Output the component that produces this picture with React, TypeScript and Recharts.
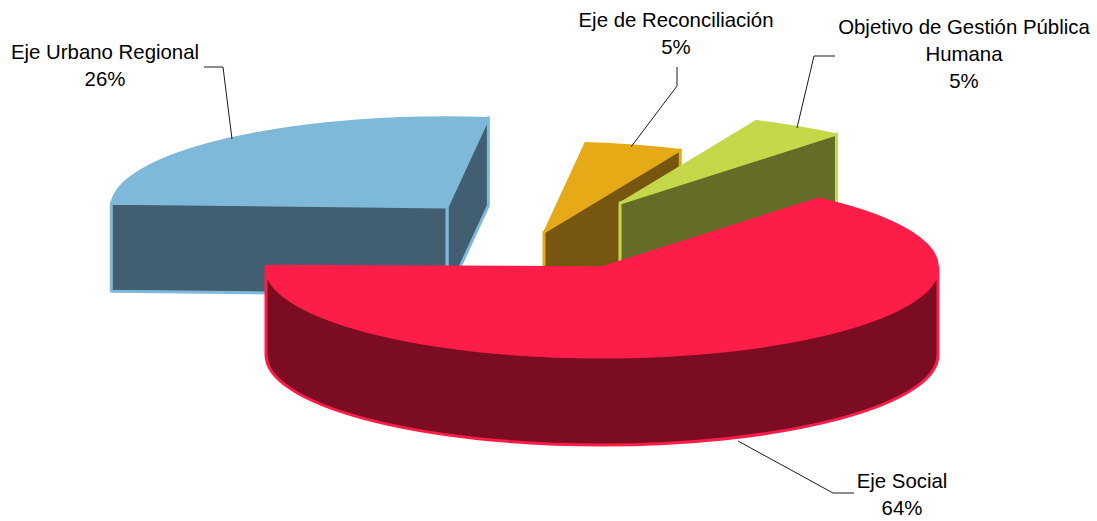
import { PieChart, Pie } from 'recharts';

const categories = ['Eje Urbano Regional', 'Eje de Reconciliación', 'Objetivo de Gestión Pública Humana', 'Eje Social'];
const shares = [26.4, 4.7, 4.51, 64.39];

const chartData = categories.map((name, i) => ({ name, value: shares[i] }));

const CX = 602;
const CY = 267;
const RADIUS = 336;
const TILT = 90 / 336;
const DEPTH = 88;

// per slice: explosion offset and colours
const sliceStyles = [
  { dx: -155, dy: -60, top: '#7FB9D9', wall: '#425F72' },
  { dx: -58, dy: -35, top: '#E5AA16', wall: '#775610' },
  { dx: 18, dy: -64, top: '#C4D84A', wall: '#646C27' },
  { dx: 0, dy: 0, top: '#FC1E48', wall: '#7B0C21' },
];

// wrapped label lines, their centre and first baseline, and the leader line
const labelLayouts = [
  { lines: ['Eje Urbano Regional'], x: 105, y: 59, leader: '204,67 223,67 232,139' },
  { lines: ['Eje de Reconciliación'], x: 676, y: 27, leader: '677,67 677,86 631,147' },
  { lines: ['Objetivo de Gestión Pública', 'Humana'], x: 964, y: 34, leader: '835,56 814,56 797,128' },
  { lines: ['Eje Social'], x: 902, y: 488, leader: '738,441 833,493 854,493' },
];

const toRad = (deg: number) => (deg * Math.PI) / 180;

function Slice3D(props: any) {
  const { cx, cy, outerRadius: r, startAngle, endAngle, name } = props;
  const s = sliceStyles[categories.indexOf(name ?? props.payload?.name)];
  const ox = cx + s.dx;
  const oy = cy + s.dy;
  const ry = r * TILT;
  const pt = (a: number) => [ox + r * Math.cos(toRad(a)), oy - ry * Math.sin(toRad(a))];

  const high = Math.max(startAngle, endAngle);
  const low = Math.min(startAngle, endAngle);
  const [hx, hy] = pt(high);
  const [lx, ly] = pt(low);
  const large = high - low > 180 ? 1 : 0;
  const top = `M${ox},${oy} L${hx},${hy} A${r},${ry} 0 ${large} 1 ${lx},${ly} Z`;

  const cut = (x: number, y: number) =>
    `M${ox},${oy} L${x},${y} L${x},${y + DEPTH} L${ox},${oy + DEPTH} Z`;

  const walls: string[] = [];
  // cut faces turned towards the viewer
  const lowNorm = ((low % 360) + 360) % 360;
  const highNorm = ((high % 360) + 360) % 360;
  if (lowNorm < 90 || lowNorm > 270) walls.push(cut(lx, ly));
  if (highNorm > 90 && highNorm < 270) walls.push(cut(hx, hy));

  // front part of the rim
  const from = Math.max(low, -180);
  const to = Math.min(high, 0);
  if (to > from) {
    const [ax, ay] = pt(from);
    const [bx, by] = pt(to);
    walls.push(
      `M${ax},${ay} A${r},${ry} 0 0 0 ${bx},${by} L${bx},${by + DEPTH} A${r},${ry} 0 0 1 ${ax},${ay + DEPTH} Z`,
    );
  }

  return (
    <g>
      {walls.map((d) => (
        <path key={d} d={d} fill={s.wall} stroke={s.top} strokeWidth={3} strokeLinejoin="round" />
      ))}
      <path d={top} fill={s.top} stroke={s.top} strokeWidth={1.5} strokeLinejoin="round" />
    </g>
  );
}

function SliceLabel(props: any) {
  const layout = labelLayouts[props.index];
  const pct = `${Math.round(props.percent * 100)}%`;
  return (
    <g>
      <polyline points={layout.leader} fill="none" stroke="#1a1a1a" strokeWidth={1} />
      <text x={layout.x} y={layout.y} textAnchor="middle" fill="#000" fontFamily="Liberation Sans" fontSize={20.4}>
        {[...layout.lines, pct].map((line, i) => (
          <tspan key={line} x={layout.x} dy={i === 0 ? 0 : 27}>
            {line}
          </tspan>
        ))}
      </text>
    </g>
  );
}

export default function App() {
  return (
    <div style={{ position: 'absolute', left: 0, top: 0 }}>
      <PieChart width={1097} height={521} margin={{ top: 0, right: 0, bottom: 0, left: 0 }}>
        <Pie
          data={chartData}
          dataKey="value"
          nameKey="name"
          cx={CX}
          cy={CY}
          innerRadius={0}
          outerRadius={RADIUS}
          startAngle={177.6}
          endAngle={-181}
          shape={Slice3D}
          label={SliceLabel}
          labelLine={false}
          rootTabIndex={-1}
          isAnimationActive={false}
        />
      </PieChart>
    </div>
  );
}
